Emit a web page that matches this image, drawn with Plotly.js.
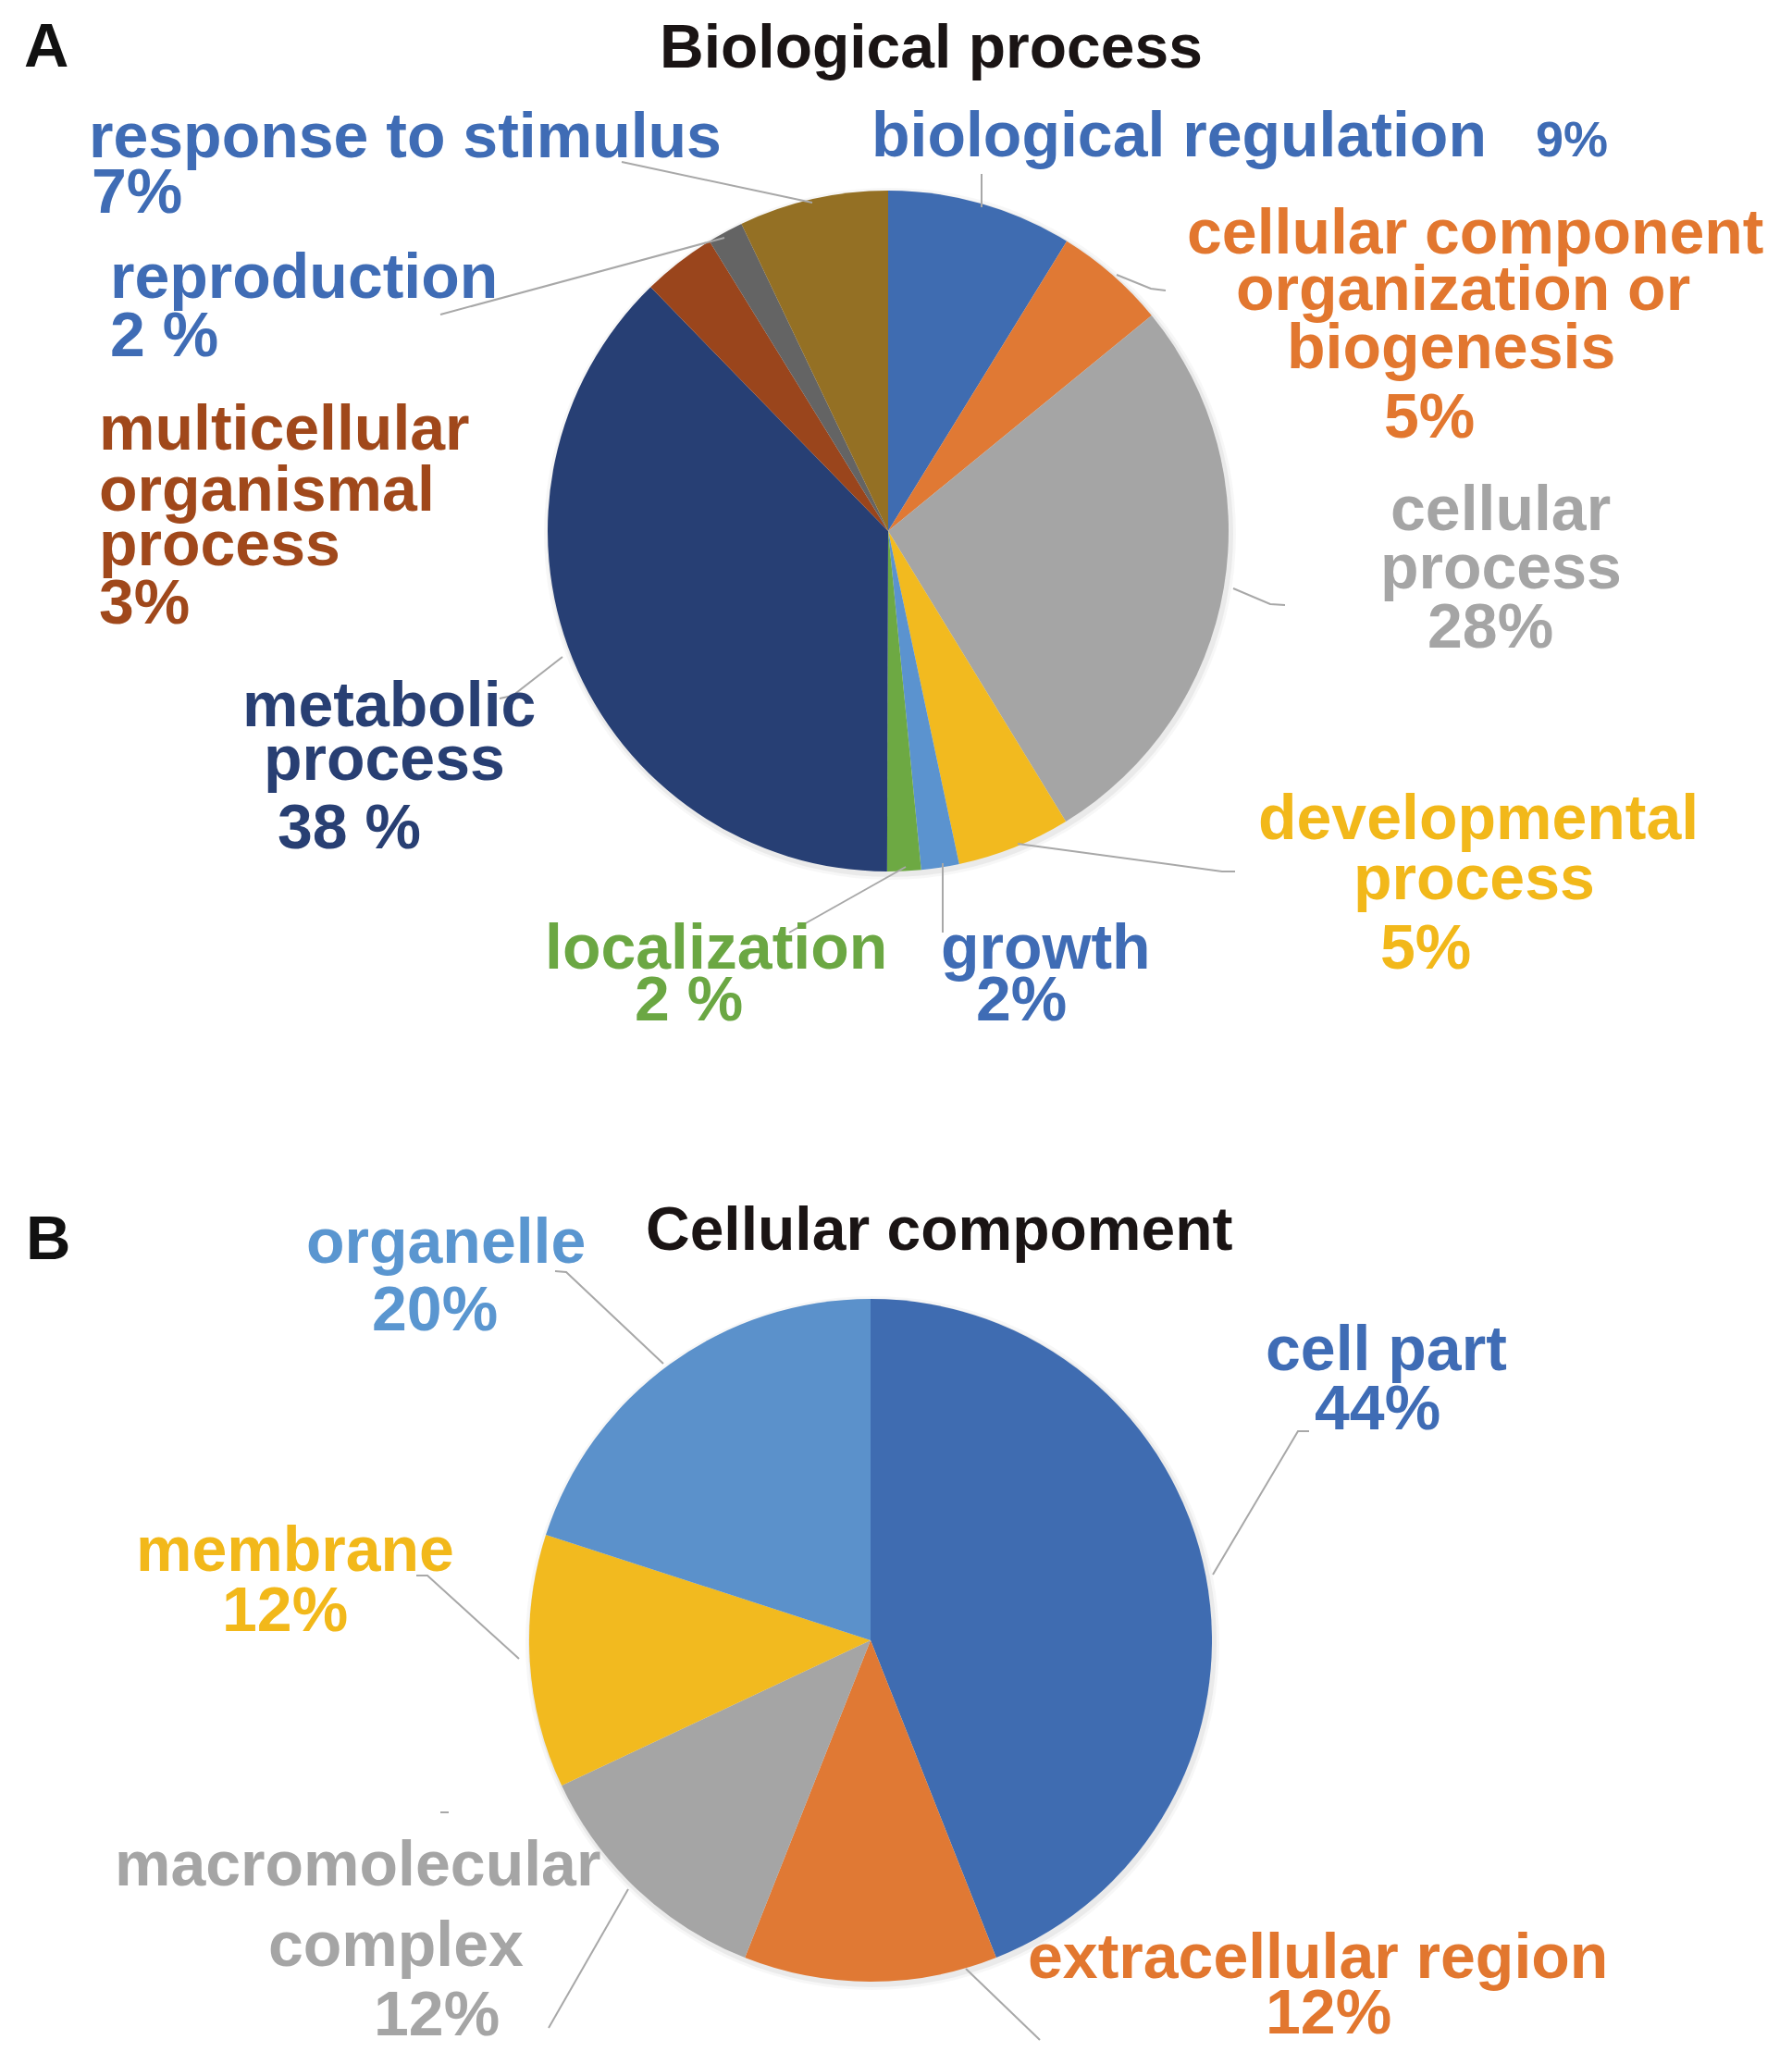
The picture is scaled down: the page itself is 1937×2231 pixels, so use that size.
<!DOCTYPE html>
<html><head><meta charset="utf-8">
<script src="https://cdn.plot.ly/plotly-3.0.1.min.js"></script>
<style>html,body{margin:0;padding:0;background:#fff}</style>
</head><body><div id="chart" style="width:1937px;height:2231px"></div>
<script>
// ---------- data: Biological process ----------
const bpCategories = ['biological regulation','cellular component organization or biogenesis','cellular process','developmental process','growth','localization','metabolic process','multicellular organismal process','reproduction','response to stimulus'];
const bpValues = [8.8, 5.3, 27.2, 5.4, 1.8, 1.6, 37.7, 3.5, 1.7, 7.1];
const bpPercents = ['9%','5%','28%','5%','2%','2 %','38 %','3%','2 %','7%'];
const bpNameLines = [['biological regulation'],['cellular component','organization or','biogenesis'],['cellular','process'],['developmental','process'],['growth'],['localization'],['metabolic','process'],['multicellular','organismal','process'],['reproduction'],['response to stimulus']];
// ---------- data: Cellular compoment ----------
const ccCategories = ['cell part','extracellular region','macromolecular complex','membrane','organelle'];
const ccValues = [44, 12, 12, 12, 20];
const ccPercents = ['44%','12%','12%','12%','20%'];
const ccNameLines = [['cell part'],['extracellular region'],['macromolecular','complex'],['membrane'],['organelle']];

// ---------- styles ----------
const bpColors = ['#3F6CB1','#E07934','#A5A5A5','#F2BA1F','#5B93CF','#6DA943','#273F74','#9A451C','#646464','#947024'];
const bpTextColors = ['#3F6CB5','#E2772F','#A5A5A5','#F2B81A','#3F6CB5','#6BA743','#283F73','#A0481B','#3F6CB5','#3F6CB5'];
const ccColors = ['#3F6CB1','#E07934','#A5A5A5','#F2BA1F','#5B91CB'];
const ccTextColors = ['#3F6CB5','#E2772F','#A5A5A5','#F2B81A','#5A96D0'];

const W = 1937, H = 2231, FS = 68, FONT = 'Liberation Sans, Arial, sans-serif';
const px = x => x / W, py = y => 1 - y / H;

// label placement (pixels): name lines [x, baseline, anchor], pct [x, baseline, anchor, size]
const bpLabelPos = [
  {name:[[941,169,'left']], pct:[1659,169,'left',54]},
  {name:[[1594,274,'center'],[1581,335,'center'],[1568,398,'center']], pct:[1545,473,'center']},
  {name:[[1622,573,'center'],[1622,636,'center']], pct:[1611,700,'center']},
  {name:[[1598,907,'center'],[1593,972,'center']], pct:[1541,1047,'center']},
  {name:[[1130,1047,'center']], pct:[1104,1103,'center']},
  {name:[[774,1047,'center']], pct:[744,1103,'center']},
  {name:[[420,785,'center'],[415,843,'center']], pct:[377,917,'center']},
  {name:[[106,486,'left'],[106,552,'left'],[106,611,'left']], pct:[106,674,'left']},
  {name:[[118,322,'left']], pct:[118,385,'left']},
  {name:[[95,170,'left']], pct:[98,230,'left']}
];
const ccLabelPos = [
  {name:[[1498,1481,'center']], pct:[1489,1545,'center']},
  {name:[[1424,2138,'center']], pct:[1436,2198,'center']},
  {name:[[386,2038,'center'],[428,2125,'center']], pct:[472,2200,'center']},
  {name:[[319,1698,'center']], pct:[308,1763,'center']},
  {name:[[482,1365,'center']], pct:[470,1438,'center']}
];
// leader lines (pixels)
const bpLeaders = [
  [[1061,188],[1061,224]],
  [[1207,297],[1244,312],[1260,314]],
  [[1333,636],[1373,653],[1389,654]],
  [[1100,912],[1321,942],[1335,942]],
  [[1019,933],[1019,1008]],
  [[979,937],[853,1008]],
  [[608,710],[554,752],[540,755]],
  null,
  [[783,257],[476,340]],
  [[878,219],[672,175]]
];
const ccLeaders = [
  [[1415,1547],[1403,1547],[1311,1702]],
  [[1044,2128],[1124,2205]],
  [[679,2042],[593,2192]],
  [[450,1703],[462,1703],[561,1793]],
  [[600,1374],[612,1375],[717,1474]]
];
const pieA = {cx:960, cy:574, r:368};
const pieB = {cx:941, cy:1773, r:369};

function domainOf(p){
  return {x:[px(p.cx-p.r), px(p.cx+p.r)], y:[py(p.cy+p.r), py(p.cy-p.r)]};
}
const traces = [
  {type:'pie', values:bpValues, labels:bpCategories, sort:false, direction:'clockwise', rotation:0,
   marker:{colors:bpColors, line:{width:0}}, textinfo:'none', hoverinfo:'label+percent', domain:domainOf(pieA), showlegend:false},
  {type:'pie', values:ccValues, labels:ccCategories, sort:false, direction:'clockwise', rotation:0,
   marker:{colors:ccColors, line:{width:0}}, textinfo:'none', hoverinfo:'label+percent', domain:domainOf(pieB), showlegend:false}
];

const annotations = [];
function ann(text, x, base, anchor, size, color){
  annotations.push({text:'<b>'+text+'</b>', x:px(x), y:py(base - 0.3465*size), xref:'paper', yref:'paper',
    xanchor:anchor, yanchor:'middle', showarrow:false, borderpad:0,
    font:{family:FONT, size:size, color:color}});
}
function addLabels(nameLines, pcts, pos, colors){
  nameLines.forEach((lines,i)=>{
    lines.forEach((t,j)=>{ const p = pos[i].name[j]; ann(t, p[0], p[1], p[2], FS, colors[i]); });
    const q = pos[i].pct; ann(pcts[i], q[0], q[1], q[2], q[3]||FS, colors[i]);
  });
}
addLabels(bpNameLines, bpPercents, bpLabelPos, bpTextColors);
addLabels(ccNameLines, ccPercents, ccLabelPos, ccTextColors);
// panel letters and titles
ann('A', 25, 72, 'left', 67, '#111');
ann('Biological process', 1006, 73, 'center', 66, '#1a1414');
ann('B', 27, 1361, 'left', 67, '#111');
ann('Cellular compoment', 1015, 1351, 'center', 66, '#1a1414');

const shapes = [];
function addLeaders(list){
  list.forEach(pts=>{
    if(!pts) return;
    const d = pts.map((p,k)=>(k?'L':'M')+px(p[0])+','+py(p[1])).join(' ');
    shapes.push({type:'path', path:d, xref:'paper', yref:'paper', line:{color:'#A8A8A8', width:2}});
  });
}
addLeaders(bpLeaders); addLeaders(ccLeaders);
// small stray dash near macromolecular label
shapes.push({type:'line', xref:'paper', yref:'paper', x0:px(476), x1:px(485), y0:py(1959), y1:py(1959), line:{color:'#A8A8A8', width:2}});
// soft pie shadows
[pieA, pieB].forEach(p=>{
  [[6,0.03],[3,0.05]].forEach(([e,o])=>{
    shapes.push({type:'circle', xref:'paper', yref:'paper', layer:'below',
      x0:px(p.cx-p.r-e+2), x1:px(p.cx+p.r+e+2), y0:py(p.cy+p.r+e+3), y1:py(p.cy-p.r-e+3),
      fillcolor:'rgba(0,0,0,'+o+')', line:{width:0}});
  });
});

const layout = {width:W, height:H, margin:{l:0,r:0,t:0,b:0}, paper_bgcolor:'#fff', plot_bgcolor:'#fff',
  showlegend:false, annotations:annotations, shapes:shapes, font:{family:FONT}};
Plotly.newPlot('chart', traces, layout, {displayModeBar:false, staticPlot:true});
</script></body></html>
